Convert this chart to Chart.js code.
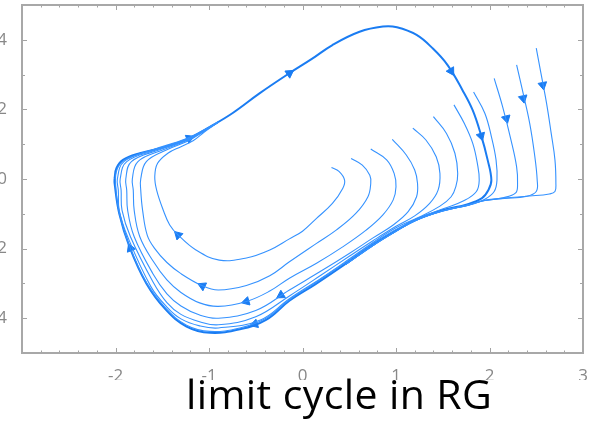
<!DOCTYPE html>
<html>
<head>
<meta charset="utf-8">
<script src="https://cdn.jsdelivr.net/npm/chart.js@4.4.1/dist/chart.umd.min.js"></script>
<style>
  html, body { margin: 0; padding: 0; background: #fff; overflow: hidden; }
  #wrap { position: absolute; left: -20px; top: 0; }
  #caption {
    position: absolute; left: 186px; top: 371px;
    font-family: "Open Sans", sans-serif; font-size: 41px; line-height: 44px;
    letter-spacing: 0.4px; color: #000; white-space: nowrap;
  }
</style>
</head>
<body>
<div id="wrap"><canvas id="phase" width="618" height="380"></canvas></div>
<div id="caption">limit cycle in RG</div>
<script>
// axis labels
const xTickLabels = [-2, -1, 0, 1, 2, 3];
const yTickLabels = [-4, -2, 0, 2, 4];

// the limit cycle, clockwise from the left turning point
const cycle = [[-2.01,0.02],[-1.99,0.31],[-1.92,0.55],[-1.74,0.74],[-1.46,0.93],[-1.21,1.17],[-0.99,1.50],[-0.75,1.89],[-0.46,2.46],[-0.14,3.04],[0.10,3.45],[0.32,3.85],[0.61,4.23],[0.86,4.38],[1.01,4.36],[1.22,4.14],[1.39,3.76],[1.55,3.28],[1.71,2.56],[1.82,1.98],[1.91,1.26],[1.98,0.55],[2.02,-0.03],[1.99,-0.31],[1.92,-0.55],[1.76,-0.73],[1.50,-0.89],[1.21,-1.17],[0.99,-1.50],[0.75,-1.89],[0.46,-2.44],[0.14,-3.02],[-0.14,-3.50],[-0.39,-4.05],[-0.67,-4.32],[-0.99,-4.42],[-1.24,-4.24],[-1.46,-3.76],[-1.67,-3.0],[-1.85,-1.95],[-1.96,-0.99],[-2.01,-0.12],[-2.01,0.02]];

// trajectories starting inside the cycle
const trajA = [[0.31,0.33],[0.39,0.22],[0.45,-0.03],[0.43,-0.27],[0.32,-0.70],[0.15,-1.13],[0.0,-1.50],[-0.14,-1.72],[-0.35,-2.04],[-0.60,-2.27],[-0.89,-2.33],[-1.14,-2.04],[-1.33,-1.61],[-1.42,-1.32],[-1.49,-0.89],[-1.56,-0.32],[-1.58,0.07],[-1.55,0.45],[-1.44,0.74],[-1.30,0.93],[-1.17,1.10],[-1.05,1.35],[-0.90,1.63]];
const trajB = [[0.52,0.59],[0.64,0.40],[0.72,0.11],[0.73,-0.12],[0.70,-0.51],[0.57,-0.99],[0.36,-1.47],[0.15,-1.85],[-0.14,-2.38],[-0.35,-2.78],[-0.60,-3.06],[-0.90,-3.19],[-1.07,-3.07],[-1.30,-2.72],[-1.45,-2.40],[-1.58,-2.0],[-1.66,-1.62],[-1.71,-0.90],[-1.73,-0.32],[-1.73,0.0],[-1.67,0.50],[-1.45,0.84],[-1.22,1.10],[-1.06,1.36],[-0.90,1.64]];
const trajC = [[0.73,0.86],[0.90,0.55],[0.98,0.16],[1.0,-0.22],[0.97,-0.60],[0.86,-1.03],[0.68,-1.47],[0.43,-1.95],[0.15,-2.42],[-0.14,-2.85],[-0.35,-3.22],[-0.60,-3.52],[-0.90,-3.66],[-1.10,-3.56],[-1.30,-3.26],[-1.45,-2.90],[-1.60,-2.35],[-1.74,-1.66],[-1.80,-0.90],[-1.81,-0.32],[-1.82,0.0],[-1.76,0.50],[-1.49,0.84],[-1.23,1.11],[-1.06,1.37],[-0.90,1.64]];
const trajD = [[0.96,1.14],[1.11,0.69],[1.20,0.26],[1.23,-0.12],[1.22,-0.51],[1.13,-0.94],[0.97,-1.32],[0.75,-1.70],[0.50,-2.14],[0.22,-2.61],[-0.14,-3.19],[-0.50,-3.78],[-0.90,-4.0],[-1.10,-3.91],[-1.30,-3.65],[-1.45,-3.30],[-1.60,-2.72],[-1.80,-1.66],[-1.87,-0.90],[-1.88,-0.32],[-1.89,0.0],[-1.83,0.50],[-1.53,0.84],[-1.24,1.12],[-1.06,1.38],[-0.90,1.64]];
const trajE = [[1.18,1.46],[1.32,1.12],[1.43,0.64],[1.47,0.16],[1.45,-0.32],[1.36,-0.70],[1.20,-1.06],[1.0,-1.36],[0.75,-1.78],[0.50,-2.22],[0.20,-2.76],[-0.14,-3.36],[-0.50,-3.96],[-0.90,-4.19],[-1.10,-4.10],[-1.30,-3.89],[-1.45,-3.55],[-1.60,-2.95],[-1.84,-1.66],[-1.93,-0.90],[-1.94,-0.32],[-1.95,0.0],[-1.88,0.50],[-1.56,0.84],[-1.25,1.13],[-1.06,1.39],[-0.90,1.64]];
const trajF = [[1.40,1.79],[1.54,1.31],[1.63,0.74],[1.66,0.16],[1.64,-0.22],[1.59,-0.51],[1.47,-0.78],[1.25,-1.09],[1.0,-1.40],[0.75,-1.83],[0.50,-2.30],[0.20,-2.85],[-0.14,-3.44],[-0.45,-4.05],[-0.90,-4.28],[-1.10,-4.22],[-1.30,-4.02],[-1.45,-3.68],[-1.62,-3.10],[-1.87,-1.66],[-1.96,-0.90],[-1.97,-0.32],[-1.98,0.0],[-1.91,0.50],[-1.60,0.84],[-1.26,1.14],[-1.06,1.40],[-0.90,1.64]];
const trajG = [[1.62,2.13],[1.73,1.60],[1.82,1.03],[1.87,0.45],[1.89,-0.03],[1.86,-0.36],[1.73,-0.62],[1.52,-0.84],[1.25,-1.12],[1.0,-1.45],[0.75,-1.86],[0.46,-2.40],[0.14,-2.98],[-0.14,-3.47],[-0.39,-4.0],[-0.67,-4.28],[-0.99,-4.38],[-1.24,-4.20],[-1.46,-3.72],[-1.67,-2.97],[-1.85,-1.93],[-1.96,-0.97],[-2.0,-0.10],[-1.98,0.30],[-1.90,0.55],[-1.70,0.76],[-1.44,0.95],[-1.21,1.17]];

// trajectories starting outside the cycle
const trajH = [[1.83,2.50],[1.95,1.89],[2.02,1.22],[2.07,0.55],[2.08,-0.03],[2.05,-0.36],[1.95,-0.58],[1.78,-0.75],[1.51,-0.91],[1.21,-1.19],[0.99,-1.52],[0.75,-1.92],[0.46,-2.46]];
const trajI = [[2.05,2.89],[2.14,2.08],[2.23,1.12],[2.29,0.35],[2.30,-0.12],[2.28,-0.40],[2.14,-0.54],[1.95,-0.61],[1.77,-0.75],[1.51,-0.91],[1.21,-1.19],[0.99,-1.52],[0.75,-1.92],[0.46,-2.46]];
const trajJ = [[2.29,3.28],[2.36,2.46],[2.43,1.60],[2.48,0.74],[2.51,-0.03],[2.50,-0.36],[2.39,-0.50],[2.16,-0.56],[1.95,-0.62],[1.77,-0.75],[1.51,-0.91],[1.21,-1.19],[0.99,-1.52],[0.75,-1.92],[0.46,-2.46]];
const trajK = [[2.50,3.76],[2.55,3.04],[2.61,2.18],[2.66,1.31],[2.70,0.55],[2.71,-0.12],[2.70,-0.36],[2.64,-0.43],[2.43,-0.49],[2.16,-0.55],[1.95,-0.62],[1.77,-0.75],[1.51,-0.91],[1.21,-1.19],[0.99,-1.52],[0.75,-1.92],[0.46,-2.46]];

// direction markers along the flow (angle in degrees, 0 = pointing up)
const arrowPoints = [[-0.14,3.04],[-1.21,1.17],[1.59,3.10],[1.91,1.24],[-1.84,-1.99],[-1.33,-1.61],[-1.07,-3.07],[-0.60,-3.52],[-0.23,-3.34],[-0.51,-4.17],[2.18,1.74],[2.36,2.32],[2.57,2.70]];
const arrowAngles = [56, 66, 149, 163, -22, -46, -65, -106, -122, -107, 166, 168, 169];

const toXY = pts => pts.map(p => ({ x: p[0], y: p[1] }));

const thin = '#3592ff';
const strong = '#1a7cf2';

const lineSet = (pts, width, color) => ({
  data: toXY(pts),
  showLine: true,
  borderColor: color,
  borderWidth: width,
  pointRadius: 0,
  tension: 0.4,
  fill: false
});

const trajectories = [trajA, trajB, trajC, trajD, trajE, trajF, trajG, trajH, trajI, trajJ, trajK];

const datasets = trajectories.map(t => lineSet(t, 1.1, thin));
datasets.push(lineSet(cycle, 2, strong));
datasets.push({
  data: toXY(arrowPoints),
  showLine: false,
  pointStyle: 'triangle',
  pointRadius: 5,
  pointRotation: arrowAngles,
  backgroundColor: strong,
  borderColor: strong,
  borderWidth: 1
});

// box frame with inward ticks on all four sides
const frame = {
  id: 'frame',
  afterDatasetsDraw(chart) {
    const { ctx, chartArea: a, scales: { x, y } } = chart;
    ctx.save();
    ctx.strokeStyle = '#a3a3a3';
    ctx.lineWidth = 1;
    for (let v = -3; v <= 3.001; v += 0.2) {
      const r = Math.round(v * 10) / 10;
      const major = Number.isInteger(r);
      const len = major ? 5 : 2.5;
      const px = Math.round(x.getPixelForValue(r)) + 0.5;
      ctx.beginPath();
      ctx.moveTo(px, a.bottom); ctx.lineTo(px, a.bottom - len);
      ctx.moveTo(px, a.top); ctx.lineTo(px, a.top + len);
      ctx.stroke();
    }
    for (let v = -5; v <= 5; v++) {
      const len = v % 2 === 0 ? 5 : 3;
      const py = Math.round(y.getPixelForValue(v)) + 0.5;
      ctx.beginPath();
      ctx.moveTo(a.left, py); ctx.lineTo(a.left + len, py);
      ctx.moveTo(a.right, py); ctx.lineTo(a.right - len, py);
      ctx.stroke();
    }
    ctx.lineWidth = 2;
    ctx.strokeStyle = '#a8a8a8';
    ctx.strokeRect(a.left, a.top, a.right - a.left, a.bottom - a.top);
    ctx.restore();
  }
};

// keep the plot box fixed: no extra room for half-labels at the ends
const noEdgePadding = s => {
  s.paddingTop = 0; s.paddingBottom = 0;
  s.paddingLeft = 0; s.paddingRight = 0;
};

new Chart(document.getElementById('phase'), {
  type: 'scatter',
  data: { datasets },
  options: {
    responsive: false,
    animation: false,
    layout: { autoPadding: false, padding: { top: 5, right: 15, left: 0, bottom: 0 } },
    plugins: { legend: { display: false }, tooltip: { enabled: false } },
    scales: {
      x: {
        min: -3, max: 3,
        afterBuildTicks: s => { s.ticks = xTickLabels.map(v => ({ value: v })); },
        afterFit: s => { s.height = 27; noEdgePadding(s); },
        grid: { display: false },
        border: { display: false },
        ticks: { color: '#888', padding: 5, font: { family: 'Open Sans', size: 17 }, autoSkip: false, maxRotation: 0 }
      },
      y: {
        min: -5, max: 5,
        afterBuildTicks: s => { s.ticks = yTickLabels.map(v => ({ value: v })); },
        afterFit: s => { s.width = 42; noEdgePadding(s); },
        grid: { display: false },
        border: { display: false },
        ticks: { color: '#888', padding: 7, font: { family: 'Open Sans', size: 17 }, autoSkip: false }
      }
    }
  },
  plugins: [frame]
});
</script>
</body>
</html>
